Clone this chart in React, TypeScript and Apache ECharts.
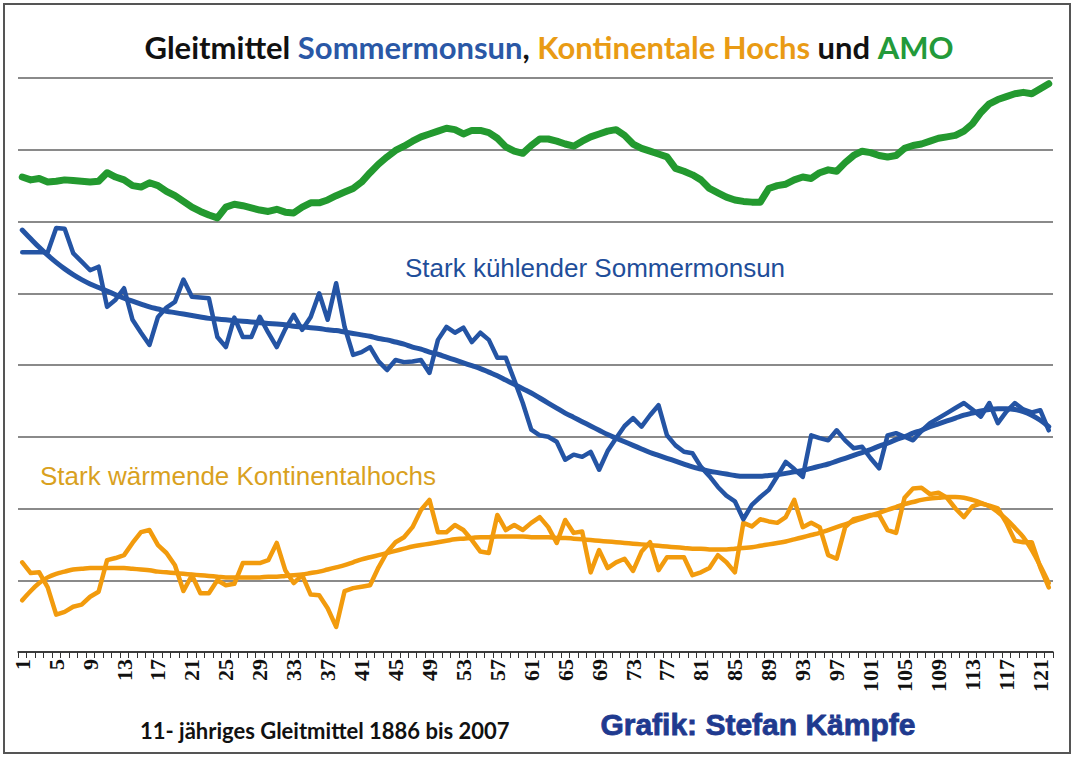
import React, { useEffect, useRef } from "react";
import * as echarts from "echarts";

const categories: string[] = Array.from({ length: 122 }, (_, i) => String(i + 1));

const amo = [
  6.62, 6.58, 6.60, 6.55, 6.56, 6.58, 6.57, 6.56, 6.55, 6.56,
  6.68, 6.62, 6.58, 6.50, 6.48, 6.54, 6.50, 6.42, 6.36, 6.28,
  6.20, 6.14, 6.09, 6.05, 6.20, 6.24, 6.22, 6.19, 6.16, 6.14,
  6.17, 6.13, 6.12, 6.20, 6.26, 6.26, 6.30, 6.36, 6.41, 6.46,
  6.55, 6.68, 6.80, 6.90, 6.99, 7.05, 7.12, 7.18, 7.22, 7.26,
  7.30, 7.28, 7.22, 7.27, 7.27, 7.24, 7.16, 7.04, 6.98, 6.95,
  7.06, 7.15, 7.15, 7.12, 7.08, 7.05, 7.12, 7.18, 7.22, 7.26,
  7.28, 7.20, 7.08, 7.02, 6.98, 6.94, 6.90, 6.74, 6.70, 6.65,
  6.58, 6.46, 6.40, 6.34, 6.30, 6.28, 6.27, 6.27, 6.46, 6.50,
  6.52, 6.58, 6.62, 6.60, 6.68, 6.72, 6.70, 6.82, 6.92, 6.98,
  6.96, 6.92, 6.90, 6.92, 7.02, 7.06, 7.08, 7.12, 7.16, 7.18,
  7.20, 7.26, 7.36, 7.52, 7.64, 7.70, 7.74, 7.78, 7.80, 7.78,
  7.85, 7.92,
];

const monsoon = [
  5.57, 5.57, 5.57, 5.57, 5.91, 5.90, 5.56, 5.44, 5.32, 5.37,
  4.81, 4.91, 5.07, 4.63, 4.45, 4.28, 4.67, 4.80, 4.88, 5.19,
  4.95, 4.94, 4.93, 4.39, 4.25, 4.66, 4.39, 4.39, 4.67, 4.45,
  4.25, 4.50, 4.70, 4.49, 4.67, 5.00, 4.63, 5.14, 4.53, 4.14,
  4.18, 4.25, 4.05, 3.93, 4.07, 4.04, 4.05, 4.07, 3.89, 4.35,
  4.53, 4.45, 4.52, 4.32, 4.45, 4.35, 4.10, 4.10, 3.79, 3.47,
  3.10, 3.02, 3.00, 2.93, 2.68, 2.75, 2.72, 2.79, 2.54, 2.80,
  2.98, 3.15, 3.26, 3.14, 3.30, 3.44, 3.02, 2.88, 2.79, 2.77,
  2.58, 2.45, 2.30, 2.18, 2.10, 1.85, 2.05, 2.16, 2.26, 2.45,
  2.65, 2.55, 2.44, 3.02, 2.98, 2.95, 3.09, 2.95, 2.84, 2.86,
  2.70, 2.56, 3.02, 3.05, 3.00, 2.95, 3.08, 3.19, 3.26, 3.33,
  3.40, 3.47, 3.38, 3.28, 3.47, 3.19, 3.35, 3.47, 3.38, 3.34,
  3.37, 3.09,
];

const monsoonTrend = [
  5.88, 5.76, 5.64, 5.53, 5.43, 5.34, 5.26, 5.19, 5.13, 5.08,
  5.03, 4.98, 4.93, 4.89, 4.85, 4.81, 4.78, 4.75, 4.73, 4.71,
  4.69, 4.67, 4.65, 4.64, 4.63, 4.62, 4.61, 4.60, 4.59, 4.58,
  4.57, 4.56, 4.54, 4.53, 4.52, 4.51, 4.49, 4.48, 4.46, 4.44,
  4.42, 4.40, 4.37, 4.35, 4.32, 4.29, 4.25, 4.22, 4.18, 4.15,
  4.11, 4.07, 4.03, 3.99, 3.95, 3.90, 3.85, 3.79, 3.73, 3.67,
  3.61, 3.54, 3.47, 3.40, 3.33, 3.27, 3.21, 3.15, 3.09, 3.03,
  2.98, 2.93, 2.88, 2.83, 2.78, 2.74, 2.70, 2.66, 2.62, 2.58,
  2.55, 2.52, 2.50, 2.48, 2.46, 2.45, 2.45, 2.45, 2.46, 2.47,
  2.49, 2.51, 2.53, 2.56, 2.59, 2.62, 2.66, 2.70, 2.74, 2.78,
  2.82, 2.87, 2.91, 2.96, 3.00, 3.05, 3.09, 3.14, 3.18, 3.22,
  3.26, 3.30, 3.33, 3.36, 3.38, 3.39, 3.39, 3.38, 3.35, 3.30,
  3.23, 3.14,
];

const highs = [
  1.25, 1.10, 1.11, 0.90, 0.52, 0.56, 0.63, 0.66, 0.77, 0.84,
  1.28, 1.31, 1.35, 1.52, 1.67, 1.70, 1.49, 1.38, 1.21, 0.85,
  1.07, 0.82, 0.82, 1.00, 0.93, 0.95, 1.24, 1.24, 1.24, 1.28,
  1.52, 1.14, 0.96, 1.07, 0.80, 0.79, 0.61, 0.35, 0.85, 0.89,
  0.91, 0.93, 1.18, 1.39, 1.53, 1.60, 1.74, 1.98, 2.12, 1.67,
  1.67, 1.77, 1.70, 1.56, 1.40, 1.38, 1.91, 1.70, 1.77, 1.70,
  1.80, 1.88, 1.74, 1.52, 1.84, 1.66, 1.68, 1.11, 1.42, 1.17,
  1.25, 1.30, 1.13, 1.40, 1.53, 1.14, 1.32, 1.32, 1.32, 1.07,
  1.11, 1.17, 1.35, 1.25, 1.11, 1.80, 1.75, 1.85, 1.82, 1.80,
  1.88, 2.12, 1.74, 1.80, 1.74, 1.35, 1.30, 1.74, 1.85, 1.88,
  1.91, 1.91, 1.70, 1.66, 2.15, 2.28, 2.29, 2.20, 2.22, 2.15,
  2.00, 1.88, 2.03, 2.07, 2.04, 2.00, 1.80, 1.55, 1.53, 1.53,
  1.18, 0.90,
];

const highsTrend = [
  0.72, 0.85, 0.96, 1.04, 1.09, 1.12, 1.15, 1.16, 1.17, 1.17,
  1.17, 1.17, 1.17, 1.16, 1.15, 1.14, 1.12, 1.11, 1.10, 1.09,
  1.08, 1.07, 1.06, 1.05, 1.04, 1.04, 1.04, 1.04, 1.04, 1.05,
  1.05, 1.06, 1.07, 1.08, 1.10, 1.12, 1.15, 1.18, 1.21, 1.25,
  1.29, 1.32, 1.35, 1.38, 1.41, 1.44, 1.47, 1.49, 1.51, 1.53,
  1.55, 1.57, 1.58, 1.59, 1.60, 1.60, 1.61, 1.61, 1.61, 1.61,
  1.60, 1.60, 1.60, 1.59, 1.59, 1.58, 1.57, 1.56, 1.55, 1.54,
  1.53, 1.52, 1.51, 1.50, 1.49, 1.48, 1.47, 1.46, 1.45, 1.44,
  1.44, 1.43, 1.43, 1.43, 1.44, 1.45, 1.46, 1.48, 1.50, 1.52,
  1.54, 1.57, 1.60, 1.63, 1.66, 1.70, 1.74, 1.78, 1.82, 1.86,
  1.90, 1.94, 1.98, 2.02, 2.06, 2.09, 2.12, 2.14, 2.15, 2.16,
  2.16, 2.15, 2.12, 2.08, 2.03, 1.95, 1.85, 1.73, 1.60, 1.42,
  1.20, 0.96,
];

const GREEN = "#23992f";
const BLUE = "#2454a4";
const ORANGE = "#f29b0d";

export default function App() {
  const ref = useRef<HTMLDivElement>(null);
  useEffect(() => {
    if (!ref.current) return;
    const chart = echarts.init(ref.current, undefined, { renderer: "svg" });
    const lineSeries = (name: string, data: number[], color: string, width: number, smooth: boolean | number) => ({
      name,
      type: "line",
      data,
      symbol: "none",
      smooth,
      lineStyle: { color, width, cap: "round", join: "round" },
      z: 3,
    });
    const tf = { fontFamily: "Lato", fontWeight: "bold", fontSize: 31 };
    chart.setOption({
      animation: false,
      backgroundColor: "#ffffff",
      title: {
        text: "{k|Gleitmittel }{b|Sommermonsun}{k|, }{o|Kontinentale Hochs}{k| und }{g|AMO}",
        left: 544,
        textAlign: "center",
        top: 26,
        textStyle: {
          rich: {
            k: { ...tf, color: "#111111" },
            b: { ...tf, color: "#2a58a6" },
            o: { ...tf, color: "#e99b14" },
            g: { ...tf, color: "#239a3a" },
          },
        },
      },
      grid: { left: 18, right: 22, top: 78, bottom: 106, containLabel: false },
      xAxis: {
        type: "category",
        data: categories,
        boundaryGap: true,
        axisLine: { show: true, lineStyle: { color: "#222222", width: 1.5 } },
        axisTick: { show: true, interval: 0, length: 6, lineStyle: { color: "#333333", width: 1 } },
        axisLabel: {
          interval: 3,
          rotate: 90,
          margin: 7,
          fontFamily: "Liberation Serif",
          fontWeight: "bold",
          fontSize: 22,
          color: "#111111",
        },
        splitLine: { show: false },
      },
      yAxis: {
        type: "value",
        min: 0,
        max: 8,
        interval: 1,
        axisLine: { show: false },
        axisTick: { show: false },
        axisLabel: { show: false },
        splitLine: { show: true, lineStyle: { color: "#8a8a8a", width: 2 } },
      },
      graphic: [
        {
          type: "rect",
          shape: { x: 4, y: 4, width: 1066, height: 749 },
          style: { fill: "none", stroke: "#555555", lineWidth: 2 },
          z: 10,
        },
        {
          type: "text",
          left: 405,
          top: 255,
          style: {
            text: "Stark kühlender Sommermonsun",
            font: "26px 'Liberation Sans'",
            fill: "#1f4e9a",
          },
        },
        {
          type: "text",
          left: 40,
          top: 463,
          style: {
            text: "Stark wärmende Kontinentalhochs",
            font: "26px 'Liberation Sans'",
            fill: "#d9a11e",
          },
        },
        {
          type: "text",
          left: 140,
          top: 719,
          style: {
            text: "11- jähriges Gleitmittel 1886 bis 2007",
            font: "bold 22px Lato",
            fill: "#111111",
          },
        },
        {
          type: "text",
          left: 600,
          top: 709,
          style: {
            text: "Grafik: Stefan Kämpfe",
            font: "bold 30px 'Liberation Sans'",
            fill: "#1f3a8f",
            stroke: "#1f3a8f",
            lineWidth: 0.8,
          },
        },
      ],
      series: [
        lineSeries("Kontinentalhochs", highs, ORANGE, 4.5, false),
        lineSeries("Kontinentalhochs Trend", highsTrend, ORANGE, 4.5, 0.4),
        lineSeries("Sommermonsun", monsoon, BLUE, 4.5, false),
        lineSeries("Sommermonsun Trend", monsoonTrend, BLUE, 5, 0.4),
        lineSeries("AMO", amo, GREEN, 7, false),
      ],
    });
    return () => chart.dispose();
  }, []);
  return (
    <div
      ref={ref}
      style={{ position: "fixed", left: 0, top: 0, width: 1075, height: 758 }}
    />
  );
}
